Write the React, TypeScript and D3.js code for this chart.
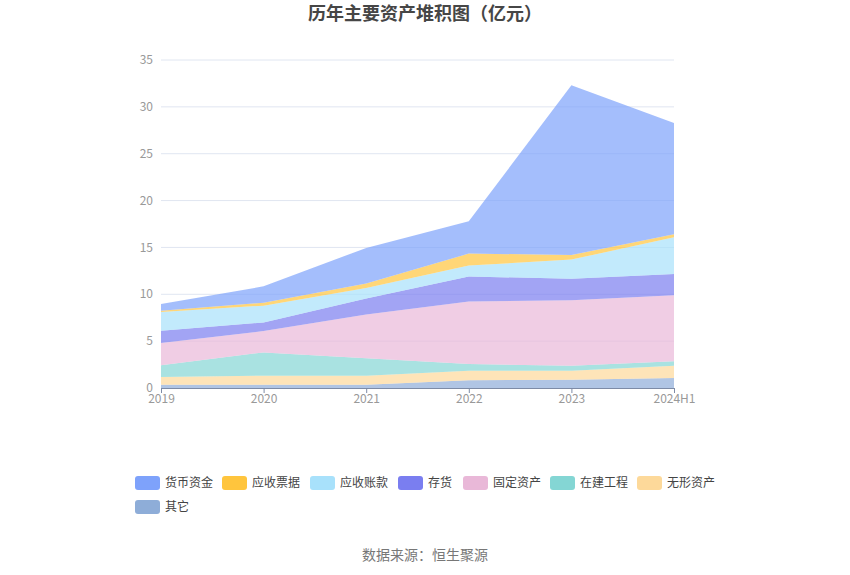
import * as d3 from "d3";
import { useEffect, useRef } from "react";

const years = ["2019", "2020", "2021", "2022", "2023", "2024H1"];

// legend order (top of stack first)
const seriesNames = ["货币资金", "应收票据", "应收账款", "存货", "固定资产", "在建工程", "无形资产", "其它"];
const seriesColors = ["#7ea2fb", "#ffc53d", "#a8e1fb", "#7a7ef0", "#e9b8d8", "#84d6d4", "#fdd99a", "#8eadd8"];

const cash = [0.72, 1.75, 3.81, 3.45, 18.1, 11.87];
const notesReceivable = [0.14, 0.31, 0.46, 1.28, 0.5, 0.31];
const accountsReceivable = [1.99, 1.79, 1.14, 1.17, 2.03, 3.92];
const inventory = [1.32, 0.92, 1.71, 2.67, 2.31, 2.28];
const fixedAssets = [2.38, 2.28, 4.66, 6.66, 6.98, 7.04];
const construction = [1.25, 2.48, 1.85, 0.71, 0.53, 0.47];
const intangible = [0.81, 0.96, 0.96, 1.03, 0.96, 1.31];
const others = [0.36, 0.36, 0.36, 0.82, 0.89, 1.07];

const yTicks = [0, 5, 10, 15, 20, 25, 30, 35];

export default function App() {
    const svgRef = useRef<SVGSVGElement | null>(null);

    useEffect(() => {
        if (!svgRef.current) return;
        const svg = d3.select(svgRef.current);
        svg.selectAll("*").remove();

        const totalW = 850;
        const totalH = 575;
        const left = 161;
        const right = 674;
        const top = 60;
        const bottom = 388;
        const font = "'Noto Sans CJK SC', 'Noto Sans', sans-serif";

        const values = [cash, notesReceivable, accountsReceivable, inventory, fixedAssets, construction, intangible, others];
        const rows = years.map((y, i) => {
            const r: any = { year: y };
            seriesNames.forEach((n, k) => (r[n] = values[k][i]));
            return r;
        });

        const keys = seriesNames.slice().reverse();
        const stacked = d3.stack<any>().keys(keys)(rows);

        const x = d3.scalePoint().domain(years).range([left, right]);
        const y = d3.scaleLinear().domain([0, 35]).range([bottom, top]);

        // gridlines
        svg.append("g")
            .selectAll("line")
            .data(yTicks.slice(1))
            .join("line")
            .attr("x1", left)
            .attr("x2", right)
            .attr("y1", (d) => y(d))
            .attr("y2", (d) => y(d))
            .attr("stroke", "#e0e6f1")
            .attr("stroke-width", 1);

        const area = d3
            .area<any>()
            .x((d) => x(d.data.year)!)
            .y0((d) => y(d[0]))
            .y1((d) => y(d[1]));

        svg.append("g")
            .selectAll("path")
            .data(stacked)
            .join("path")
            .attr("d", (s) => area(s as any))
            .attr("fill", (s) => seriesColors[seriesNames.indexOf(s.key)])
            .attr("fill-opacity", 0.7);

        // x axis
        const xAxis = svg
            .append("g")
            .attr("transform", `translate(0,${bottom})`)
            .call(d3.axisBottom(x).tickSize(5).tickSizeOuter(0));
        xAxis.select(".domain").attr("stroke", "#7d8ba6").attr("stroke-width", 1.2);
        xAxis.selectAll(".tick line").attr("stroke", "#7d8ba6");
        xAxis.selectAll(".tick text")
            .attr("fill", "#999")
            .attr("font-size", 12)
            .attr("font-family", font)
            .attr("dy", "0.55em");

        // y labels
        svg.append("g")
            .selectAll("text")
            .data(yTicks)
            .join("text")
            .attr("x", left - 8)
            .attr("y", (d) => y(d))
            .attr("dy", "0.35em")
            .attr("text-anchor", "end")
            .attr("fill", "#999")
            .attr("font-size", 12)
            .attr("font-family", font)
            .text((d) => d);

        // title
        svg.append("text")
            .attr("x", totalW / 2)
            .attr("y", 20)
            .attr("text-anchor", "middle")
            .attr("font-size", 18)
            .attr("font-weight", "bold")
            .attr("fill", "#464646")
            .attr("font-family", font)
            .text("历年主要资产堆积图（亿元）");

        // legend
        const legendX = [135, 222, 310, 398, 463, 550, 637, 135];
        const legendY = [476, 476, 476, 476, 476, 476, 476, 500];
        const lg = svg.append("g")
            .selectAll("g")
            .data(seriesNames)
            .join("g")
            .attr("transform", (_d, i) => `translate(${legendX[i]},${legendY[i]})`);
        lg.append("rect")
            .attr("width", 25)
            .attr("height", 14)
            .attr("rx", 3)
            .attr("fill", (_d, i) => seriesColors[i]);
        lg.append("text")
            .attr("x", 30)
            .attr("y", 7)
            .attr("dy", "0.35em")
            .attr("font-size", 12)
            .attr("fill", "#444")
            .attr("font-family", font)
            .text((d) => d);

        // source
        svg.append("text")
            .attr("x", totalW / 2)
            .attr("y", 555)
            .attr("dy", "0.35em")
            .attr("text-anchor", "middle")
            .attr("font-size", 14)
            .attr("fill", "#777")
            .attr("font-family", font)
            .text("数据来源：恒生聚源");

        svg.attr("width", totalW).attr("height", totalH);
    }, []);

    return (
        <>
            <style>{"body{margin:0}"}</style>
            <svg ref={svgRef} width={850} height={575} style={{ display: "block", background: "#fff" }} />
        </>
    );
}
